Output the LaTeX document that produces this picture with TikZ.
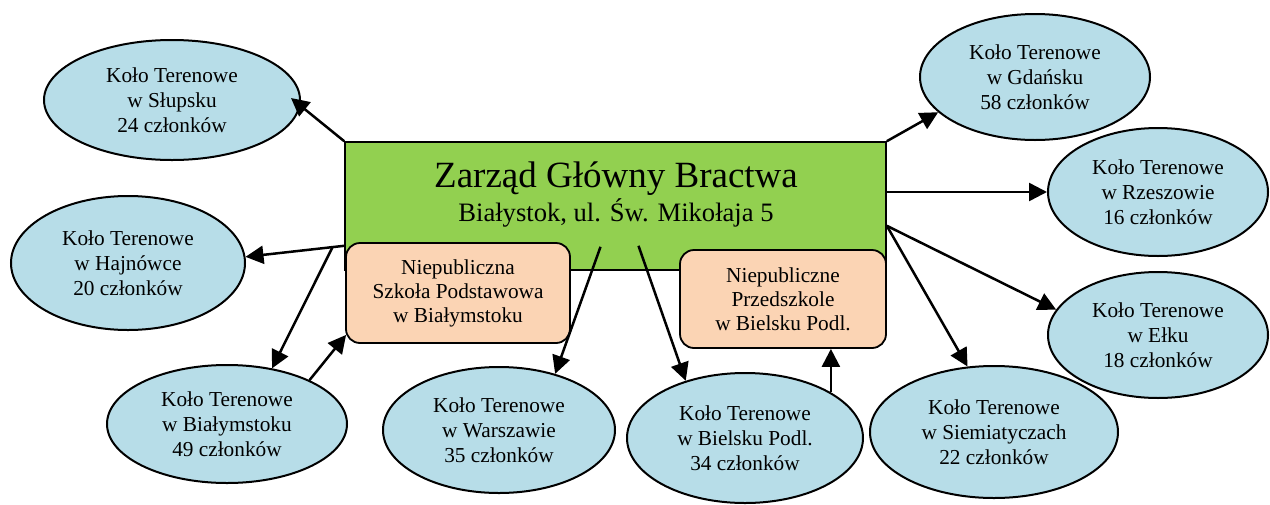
\documentclass[tikz,border=0pt]{standalone}
\usepackage{fontspec}
\setmainfont{Liberation Serif}
\usetikzlibrary{arrows.meta,calc,shapes.geometric}
\definecolor{zgreen}{HTML}{92D050}
\definecolor{kblue}{HTML}{B7DDE8}
\definecolor{peach}{HTML}{FBD4B4}
\begin{document}
\begin{tikzpicture}[x=1pt,y=-1pt,
  kolo/.style={ellipse, draw, line width=2pt, fill=kblue, inner sep=0pt, align=center,
    font=\fontsize{21.3}{25}\selectfont},
  schoolbox/.style={rectangle, rounded corners=14pt, draw, line width=1.8pt, fill=peach,
    inner sep=0pt, align=center, font=\fontsize{21.3}{24}\selectfont},
  arr/.style={line width=2.5pt, -{Triangle[length=18pt,width=18pt]}}]
\useasboundingbox (0,0) rectangle (1270,504);

% main board
\node[rectangle, draw, line width=1.6pt, fill=zgreen, minimum width=541pt, minimum height=128pt, inner sep=0pt] (zarzad) at (615.5,206) {};
\node[font=\fontsize{37}{40}\selectfont, anchor=base, inner sep=0pt] (ztitle) at (616,187) {Zarząd Główny Bractwa};
\node[font=\fontsize{26.6}{30}\selectfont, anchor=base, inner sep=0pt] (zaddr) at (616,221) {Białystok, ul. Św. Mikołaja 5};

% schools
\node[schoolbox, minimum width=224pt, minimum height=100pt] (szkola) at (458,293) {Niepubliczna\\Szkoła Podstawowa\\w Białymstoku};
\node[schoolbox, minimum width=206pt, minimum height=98pt] (przedszkole) at (783,299) {Niepubliczne\\Przedszkole\\w Bielsku Podl.};

% circles
\node[kolo, minimum width=256pt, minimum height=120pt] (slupsk) at (172,100) {Koło Terenowe\\w Słupsku\\24 członków};
\node[kolo, minimum width=234pt, minimum height=134pt] (hajnowka) at (128,263) {Koło Terenowe\\w Hajnówce\\20 członków};
\node[kolo, minimum width=240pt, minimum height=118pt] (bialystok) at (227,424) {Koło Terenowe\\w Białymstoku\\49 członków};
\node[kolo, minimum width=232pt, minimum height=126pt] (warszawa) at (499,430) {Koło Terenowe\\w Warszawie\\35 członków};
\node[kolo, minimum width=236pt, minimum height=130pt] (bielsk) at (745,438) {Koło Terenowe\\w Bielsku Podl.\\34 członków};
\node[kolo, minimum width=248pt, minimum height=132pt] (siemiatycze) at (994,432) {Koło Terenowe\\w Siemiatyczach\\22 członków};
\node[kolo, minimum width=220pt, minimum height=126pt] (elk) at (1158,335) {Koło Terenowe\\w Ełku\\18 członków};
\node[kolo, minimum width=220pt, minimum height=128pt] (rzeszow) at (1158,192) {Koło Terenowe\\w Rzeszowie\\16 członków};
\node[kolo, minimum width=230pt, minimum height=126pt] (gdansk) at (1035,77) {Koło Terenowe\\w Gdańsku\\58 członków};

% start points
\coordinate (zHL) at ($(zarzad.south west)+(0,-25)$);
\coordinate (zBL) at ($(zarzad.south west)+(-12,-23)$);
\coordinate (zW) at ($(zarzad.south)+(-15,-24)$);
\coordinate (zB) at ($(zarzad.south)+(23,-25)$);
\coordinate (zR) at ($(zarzad.south east)+(0,-45)$);

% connectors
\draw[arr] (zarzad.north west) -- ($(slupsk.east)+(-10,-2)$);
\draw[arr] (zHL) -- (hajnowka.3);
\draw[arr] (zBL) -- (bialystok.51);
\draw[arr] (bialystok.28) -- ($(szkola.south west)+(1,-9)$);
\draw[arr] (zW) -- (warszawa.45);
\draw[arr] (zB) -- (bielsk.136);
\draw[arr] (bielsk.28) -- (bielsk.28 |- przedszkole.south);
\draw[arr] (zarzad.north east) -- (gdansk.200);
\draw[arr] (zarzad.east |- rzeszow.west) -- (rzeszow.west);
\draw[arr] (zR) -- (elk.166);
\draw[arr] (zR) -- (siemiatycze.112);
\end{tikzpicture}
\end{document}
